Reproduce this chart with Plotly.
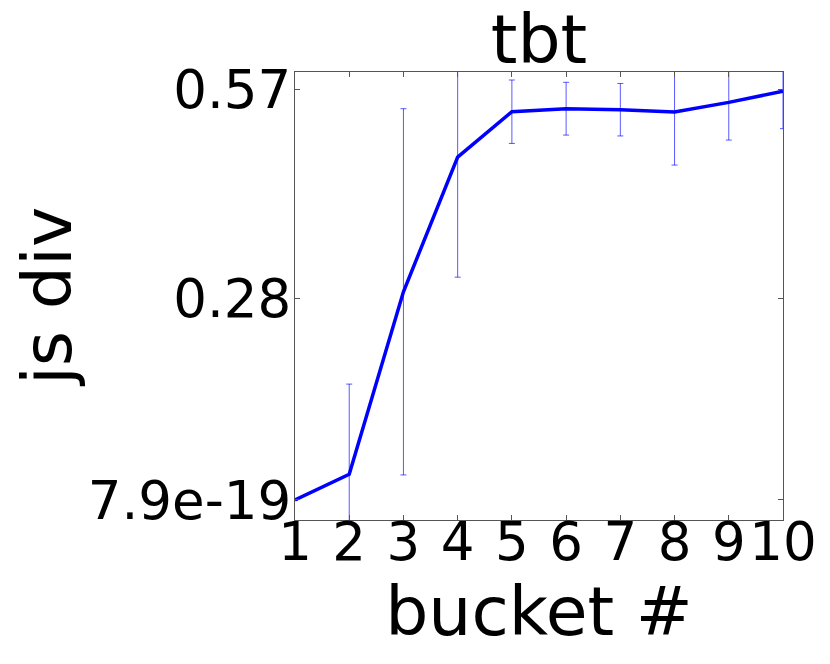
import plotly.graph_objects as go

buckets = [1, 2, 3, 4, 5, 6, 7, 8, 9, 10]
js_div = [7.9e-19, 0.0357, 0.2887, 0.4756, 0.5385, 0.5427, 0.5413, 0.5381, 0.5515, 0.567]
js_err = [0.0, 0.125, 0.254, 0.1666, 0.044, 0.0366, 0.0364, 0.0736, 0.0523, 0.052]
y_tickvals = [7.9e-19, 0.28, 0.57]
y_ticktext = ["7.9e-19", "0.28", "0.57"]
x_ticktext = ["1", "2", "3", "4", "5", "6", "7", "8", "9", "10"]

FONT = "DejaVu Sans"
W, H = 822, 656  # page body has an 8px margin

fig = go.Figure()
fig.add_trace(go.Scatter(
    x=buckets, y=js_div, mode="lines",
    line=dict(color="#0000ff", width=3.5),
    error_y=dict(type="data", array=js_err, visible=True,
                 color="rgba(0,0,255,0.65)", thickness=1, width=3),
    showlegend=False,
))

axis_common = dict(
    showline=True, linecolor="#555555", linewidth=1.3, mirror="ticks",
    ticks="inside", ticklen=5, tickcolor="#555555", tickwidth=1,
    showgrid=False, zeroline=False,
    tickfont=dict(family=FONT, size=53, color="black"),
)

fig.update_layout(
    width=W, height=H,
    margin=dict(l=287, r=47, t=64, b=144),
    paper_bgcolor="white", plot_bgcolor="white",
    title=dict(text="tbt", x=0.5, xanchor="center", xref="paper",
               y=1 - 7 / H, yref="container", yanchor="top", pad=dict(t=0),
               font=dict(family=FONT, size=68, color="black")),
    xaxis=dict(range=[1, 10], tickvals=buckets, ticktext=x_ticktext,
               ticklabelstandoff=-25,
               title=dict(text="bucket #", standoff=0,
                          font=dict(family=FONT, size=68, color="black")),
               **axis_common),
    yaxis=dict(range=[-0.0278, 0.5936], tickvals=y_tickvals, ticktext=y_ticktext,
               ticklabelstandoff=-8,
               title=dict(text="js div", standoff=0,
                          font=dict(family=FONT, size=68, color="black")),
               **axis_common),
)

fig.write_html("out.html")
